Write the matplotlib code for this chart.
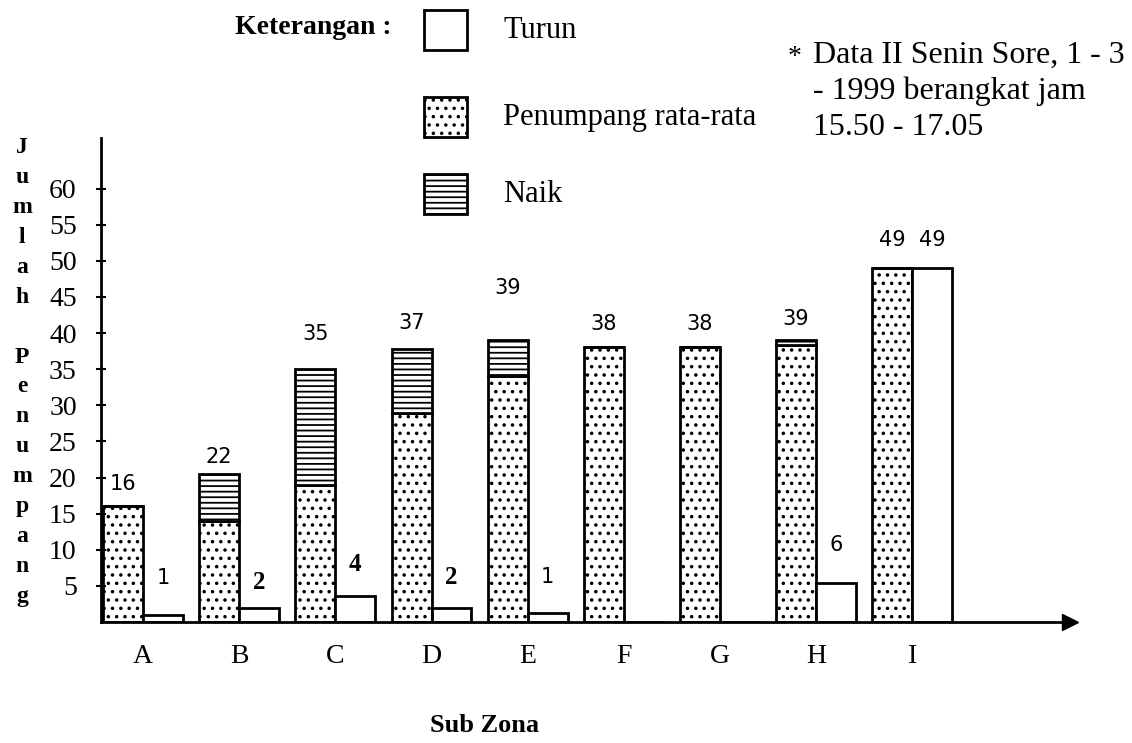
import matplotlib.pyplot as plt
from matplotlib.patches import Rectangle

# data
zona = ['A', 'B', 'C', 'D', 'E', 'F', 'G', 'H', 'I']
rata_rata = [16, 14, 19, 29, 34, 38, 38, 38.3, 49]
naik = [0, 6.5, 16, 8.8, 5, 0, 0, 0.7, 0]
turun = [1, 2, 3.6, 2, 1.2, 0, 0, 5.4, 49]
label_total = ['16', '22', '35', '37', '39', '38', '38', '39', '49']
label_turun = ['1', '2', '4', '2', '1', '', '', '6', '49']
turun_bold = [False, True, True, True, False, False, False, False, False]

# label offsets above bar top (pixels)
dy_total = [22, 17, 35, 26, 52, 23, 23, 21, 28]
dy_turun = [37, 25, 31, 30, 36, 0, 0, 38, 28]

serif = 'Liberation Serif'
plt.rcParams['hatch.linewidth'] = 1.3

fig = plt.figure(figsize=(11.32, 7.43), dpi=100)
W, H = 1132, 743
ax = fig.add_axes([101 / W, 121 / H, (1070 - 101) / W, (622 - 138) / H])

w = 0.415
xs = list(range(len(zona)))
x_left = [i - w / 2 for i in xs]
x_right = [i + w / 2 for i in xs]

ax.bar(x_left, rata_rata, w, color='white', edgecolor='black', hatch='..', lw=2)
ax.bar(x_left, naik, w, bottom=rata_rata, color='white', edgecolor='black', hatch='---', lw=2)
ax.bar(x_right, turun, w, color='white', edgecolor='black', lw=2)

for i in xs:
    top = rata_rata[i] + naik[i]
    ax.annotate(label_total[i], (x_left[i], top), xytext=(0, dy_total[i]),
                textcoords='offset pixels', ha='center', va='center',
                fontsize=15, family='DejaVu Sans')
    if label_turun[i]:
        if turun_bold[i]:
            ax.annotate(label_turun[i], (x_right[i], turun[i]), xytext=(0, dy_turun[i]),
                        textcoords='offset pixels', ha='center', va='center',
                        fontsize=18, family=serif, weight='bold')
        else:
            ax.annotate(label_turun[i], (x_right[i], turun[i]), xytext=(0, dy_turun[i]),
                        textcoords='offset pixels', ha='center', va='center',
                        fontsize=15, family='DejaVu Sans')

ax.set_xlim(-0.437, 9.64)
ax.set_ylim(0, 67)
ax.spines['top'].set_visible(False)
ax.spines['right'].set_visible(False)
ax.spines['left'].set_linewidth(2)
ax.spines['bottom'].set_linewidth(2)

ax.set_yticks(range(5, 61, 5))
ax.set_yticklabels([str(v) for v in range(5, 61, 5)], fontsize=20, family=serif)
ax.tick_params(axis='y', direction='inout', length=7, width=1.5, pad=14)
ax.set_xticks(xs)
ax.set_xticklabels(zona, fontsize=20, family=serif)
ax.tick_params(axis='x', length=0, pad=16)

# arrow at end of x axis
ax.plot(1, 0, marker='>', color='black', markersize=12, transform=ax.transAxes, clip_on=False)

ax.set_xlabel('Sub Zona', fontsize=19, family=serif, weight='bold')
ax.xaxis.set_label_coords((485 - 101) / (1070 - 101), -(714 - 622) / (622 - 138))

fig.text(22 / W, 1 - 372 / H, '\n'.join('Jumlah') + '\n\n' + '\n'.join('Penumpang'),
         ha='center', va='center', multialignment='center', fontsize=17,
         family=serif, weight='bold', linespacing=1.56)

# legend (Keterangan)
fig.text(235 / W, 1 - 27 / H, 'Keterangan :', fontsize=20, family=serif, weight='bold',
         va='center', ha='left')
legend_items = [('Turun', '', 30), ('Penumpang rata-rata', '..', 117), ('Naik', '---', 194)]
for name, hatch, yc in legend_items:
    fig.patches.append(Rectangle((424 / W, 1 - (yc + 20) / H), 43 / W, 40 / H,
                                 transform=fig.transFigure, facecolor='white',
                                 edgecolor='black', hatch=hatch, lw=2))
    fig.text(503 / W, 1 - yc / H, name, fontsize=22, family=serif, va='center', ha='left')

fig.text(795 / W, 1 - 58 / H, '*', fontsize=20, family=serif, ha='center', va='center')
fig.text(813 / W, 1 - 41 / H, 'Data II Senin Sore, 1 - 3\n- 1999 berangkat jam\n15.50 - 17.05',
         fontsize=23, family=serif, ha='left', va='top', linespacing=1.3)

plt.savefig('out.png', dpi=100)
